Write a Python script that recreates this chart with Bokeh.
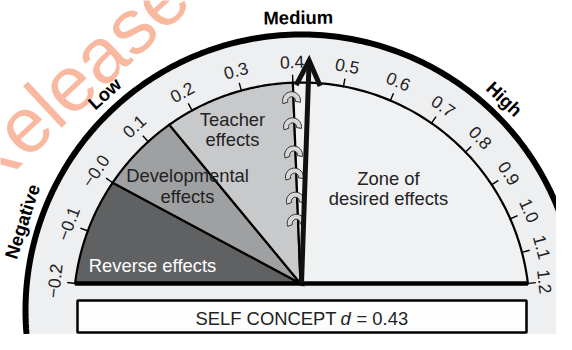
import math
import numpy as np
from bokeh.plotting import figure
from bokeh.models import Range1d
from bokeh.core.properties import value
from bokeh.embed import file_html
from bokeh.resources import INLINE

# ---------------- data ----------------
tick_values = [-0.2, -0.1, 0.0, 0.1, 0.2, 0.3, 0.4, 0.5, 0.6, 0.7, 0.8, 0.9, 1.0, 1.1, 1.2]
tick_labels = ["\u22120.2", "\u22120.1", "\u22120.0", "0.1", "0.2", "0.3", "0.4", "0.5",
               "0.6", "0.7", "0.8", "0.9", "1.0", "1.1", "1.2"]
zone_names = ["Reverse effects", "Developmental effects", "Teacher effects", "Zone of desired effects"]
zone_starts = [-0.2, 0.0, 0.15, 0.4]
zone_ends = [0.0, 0.15, 0.4, 1.2]
category_labels = ["Negative", "Low", "Medium", "High"]
category_values = [-0.12, 0.1, 0.412, 0.78]
effect_label = "SELF CONCEPT"
effect_d = 0.43

# ---------------- layout ----------------
FONT = value("Liberation Sans")
W, H = 556, 334
CX, CY = 301.0, -310.0          # centre of the dial circle
AX, AY = 300.0, -283.0          # apex on the base line
R_IN, R_OUT, R_LBL, R_CAT = 228.0, 276.0, 249.0, 293.0
TICK_LEN = 8.0
zone_colors = ["#606163", "#9fa0a2", "#c8c9cb", "#f0f1f3"]
RING = "#eeeff1"


def ang(v):
    u = v - 0.5
    return math.radians(79.4 - 125.7 * u + 21.6 * u * u + 14.0 * u ** 3)


def pt(v, r):
    a = ang(v)
    return CX + r * math.cos(a), CY + r * math.sin(a)


p = figure(width=W, height=H, x_range=Range1d(0, W), y_range=Range1d(-H, 0),
           output_backend="svg", toolbar_location=None, x_axis_type=None, y_axis_type=None,
           min_border=0)
p.grid.visible = False
p.outline_line_color = None
p.background_fill_color = "white"
p.border_fill_color = "white"

# watermark
p.text(x=[-34], y=[-179], text=["Release"], angle=math.radians(43),
       text_font=FONT, text_font_size="78px", text_color="#f8b9a0",
       text_align="left", text_baseline="alphabetic")

# outer ring
a0 = math.asin((-352 - CY) / R_OUT)
th = np.linspace(a0, math.pi - a0, 200)
p.patch(CX + R_OUT * np.cos(th), CY + R_OUT * np.sin(th), fill_color=RING,
        line_color="black", line_width=6)

# zones
for s, e, c in zip(zone_starts, zone_ends, zone_colors):
    vs = np.linspace(s, e, 80)
    xs = [AX] + [pt(v, R_IN)[0] for v in vs] + [AX]
    ys = [AY] + [pt(v, R_IN)[1] for v in vs] + [AY]
    p.patch(xs, ys, fill_color=c, line_color="black", line_width=2.2, line_join="miter")

# base line
xl, yl = pt(tick_values[0], R_IN)
xr, yr = pt(tick_values[-1], R_IN)
p.line([xl, xr], [AY, AY], line_color="black", line_width=4.5)

# ticks and tick labels
t0 = [pt(v, R_IN - 1) for v in tick_values]
t1 = [pt(v, R_IN + TICK_LEN) for v in tick_values]
p.segment(x0=[a[0] for a in t0], y0=[a[1] for a in t0], x1=[b[0] for b in t1], y1=[b[1] for b in t1],
          line_color="black", line_width=1.4)
lbl_r = [R_LBL] * (len(tick_values) - 1) + [R_LBL - 4]
lp = [pt(v, r) for v, r in zip(tick_values, lbl_r)]
p.text(x=[a[0] for a in lp], y=[a[1] for a in lp], text=tick_labels,
       angle=[ang(v) - math.pi / 2 for v in tick_values],
       text_font=FONT, text_font_size="17.5px", text_color="#222222",
       text_align="center", text_baseline="middle")

# category labels
cp = [pt(v, R_CAT) for v in category_values]
p.text(x=[a[0] for a in cp], y=[a[1] for a in cp], text=category_labels,
       angle=[ang(v) - math.pi / 2 for v in category_values],
       text_font=FONT, text_font_size="18.5px", text_font_style="bold", text_color="black",
       text_align="center", text_baseline="middle")

# spiral hooks on the teacher / desired boundary
bx, by = pt(zone_starts[3], R_IN)
for f in [0.30, 0.41, 0.53, 0.64, 0.78, 0.91]:
    hx = AX + (bx - AX) * f - 2
    hy = AY + (by - AY) * f
    p.annular_wedge(x=[hx], y=[hy], inner_radius=4, outer_radius=9,
                    start_angle=math.radians(-10), end_angle=math.radians(200),
                    fill_color="#d6d7d9", line_color="#333333", line_width=1)

# needle
nx, ny = pt(effect_d, R_IN)
L = math.hypot(nx - AX, ny - AY)
dx, dy = (nx - AX) / L, (ny - AY) / L
tipx, tipy = AX + dx * (L + 22), AY + dy * (L + 22)
p.line([AX + 1, tipx], [AY, tipy], line_color="#111111", line_width=5)
px_, py_ = -dy, dx
w1 = (tipx - dx * 25 + px_ * 12, tipy - dy * 25 + py_ * 12)
w2 = (tipx - dx * 25 - px_ * 12, tipy - dy * 25 - py_ * 12)
p.line([w1[0], tipx, w2[0]], [w1[1], tipy, w2[1]], line_color="#111111", line_width=5,
       line_join="miter")

# zone labels
lab_x = [152, 187, 187, 232, 232, 388, 388]
lab_y = [-265, -175, -196, -119, -139, -178, -198]
lab_t = ["Reverse effects", "Developmental", "effects", "Teacher", "effects", "Zone of", "desired effects"]
lab_c = ["white", "#222222", "#222222", "#222222", "#222222", "#222222", "#222222"]
p.text(x=lab_x, y=lab_y, text=lab_t, text_color=lab_c, text_font=FONT, text_font_size="18.4px",
       text_align="center", text_baseline="middle")

# effect box
p.quad(left=[77], right=[526], top=[-300], bottom=[-332], fill_color="#fdfdfd",
       line_color="black", line_width=2.5)
p.text(x=[195], y=[-318], text=[effect_label], text_font=FONT, text_font_size="18.4px",
       text_color="#222222", text_align="left", text_baseline="middle")
p.text(x=[340], y=[-318], text=["d"], text_font=FONT, text_font_size="18.4px",
       text_font_style="italic", text_color="#222222", text_align="left", text_baseline="middle")
p.text(x=[356], y=[-318], text=["= %.2f" % effect_d], text_font=FONT, text_font_size="18.4px",
       text_color="#222222", text_align="left", text_baseline="middle")

open("out.html", "w").write(file_html(p, INLINE))
